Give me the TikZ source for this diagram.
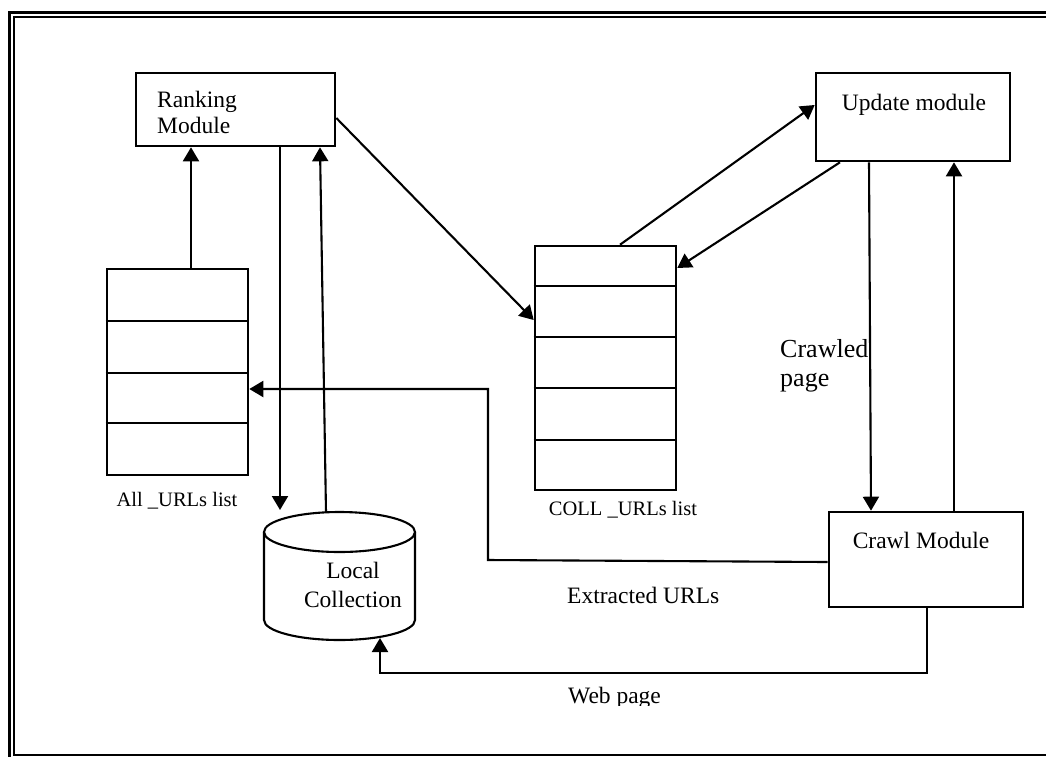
\documentclass[tikz,border=0pt]{standalone}
\usepackage{fontspec}
\setmainfont{Liberation Serif}
\usetikzlibrary{arrows.meta}

\begin{document}
\begin{tikzpicture}[x=1pt,y=-1pt,
  box/.style={draw,line width=2.6pt,inner sep=0pt},
  cell/.style={line width=2.6pt},
  wire/.style={line width=2.1pt},
  arr/.style={wire,-{Triangle[length=14pt,width=16pt]}},
  lbl/.style={font=\fontsize{23.5}{26}\selectfont,inner sep=0pt},
  small/.style={font=\fontsize{20.5}{24}\selectfont,inner sep=0pt},
  big/.style={font=\fontsize{26}{30}\selectfont,inner sep=0pt}]

\useasboundingbox (0,0) rectangle (1046,756);
\clip (0,0) rectangle (1046,756);

% double frame
\draw[line width=3pt] (1070,12) -- (9.5,12) -- (9.5,780);
\draw[line width=2pt] (1070,17) -- (14,17) -- (14,755) -- (1070,755);

% modules
\node[box,minimum width=199pt,minimum height=73pt] (rank) at (235.5,109.5) {};
\node[lbl,anchor=base west] (rank1) at (157,107) {Ranking};
\node[lbl,anchor=base west] (rank2) at (157,133) {Module};

\node[box,minimum width=194pt,minimum height=88pt] (upd) at (913,117) {};
\node[lbl,anchor=base] (updtxt) at (914,110) {Update module};

\node[box,minimum width=194pt,minimum height=95pt] (crawl) at (926,559.5) {};
\node[lbl,anchor=base] (crawltxt) at (921,548) {Crawl Module};

% URL lists
\node[box,minimum width=141pt,minimum height=206pt] (allurl) at (177.5,372) {};
\foreach \yy in {321,373,423} \draw[cell] (allurl.west |- 0,\yy) -- (allurl.east |- 0,\yy);
\node[small,anchor=base] (alltxt) at (177,506) {All \_URLs list};

\node[box,minimum width=141pt,minimum height=244pt] (coll) at (605.5,368) {};
\foreach \yy in {286,337,388,440} \draw[cell] (coll.west |- 0,\yy) -- (coll.east |- 0,\yy);
\node[small,anchor=base] (colltxt) at (623,515) {COLL \_URLs list};

% local collection (cylinder)
\draw[wire] (264,532) -- (264,620) arc[start angle=180,end angle=360,x radius=75.5pt,y radius=20pt] -- (415,532);
\draw[wire,fill=white] (339.5,532) ellipse[x radius=75.5pt,y radius=20pt];
\node[lbl,anchor=base] (lc1) at (353,578) {Local};
\node[lbl,anchor=base] (lc2) at (353,607) {Collection};
\coordinate (lidin) at (339.5,510);
\coordinate (lidout) at (326,512.5);
\coordinate (cylbot) at (380,638);

% connectors
\draw[arr] ([xshift=13.5pt]allurl.north) coordinate (a1) -- (a1 |- rank.south);
\draw[arr] ([xshift=44.5pt]rank.south) coordinate (r2) -- (r2 |- lidin);
\draw[arr] (lidout) -- ([xshift=84.5pt]rank.south);
\draw[arr] ([yshift=-8.5pt]rank.east) -- ([yshift=48pt]coll.west);
\draw[arr] ([xshift=14.5pt]coll.north) -- ([yshift=12pt]upd.west);
\draw[arr] ([xshift=-73pt]upd.south) -- ([yshift=100pt]coll.east);
\draw[arr] ([xshift=-44pt]upd.south) -- ([xshift=-55pt]crawl.north);
\draw[arr] ([xshift=28pt]crawl.north) -- ([xshift=41pt]upd.south);

\coordinate (xbend) at (488,560);
\draw[arr] ([yshift=-2.5pt]crawl.west) -- (xbend) |- ([yshift=-17pt]allurl.east);

\coordinate (wbend) at (380,673);
\draw[arr] ([xshift=1pt]crawl.south) |- (wbend) -- (cylbot);

% connector labels
\node[big,anchor=base west] (cp1) at (780,357) {Crawled};
\node[big,anchor=base west] (cp2) at (780,386) {page};
\node[lbl,anchor=base west] (ext) at (567,603) {Extracted URLs};
\begin{scope}
  \clip (0,0) rectangle (1046,705);
  \node[lbl,anchor=base west] (web) at (568,703) {Web page};
\end{scope}
\end{tikzpicture}
\end{document}
